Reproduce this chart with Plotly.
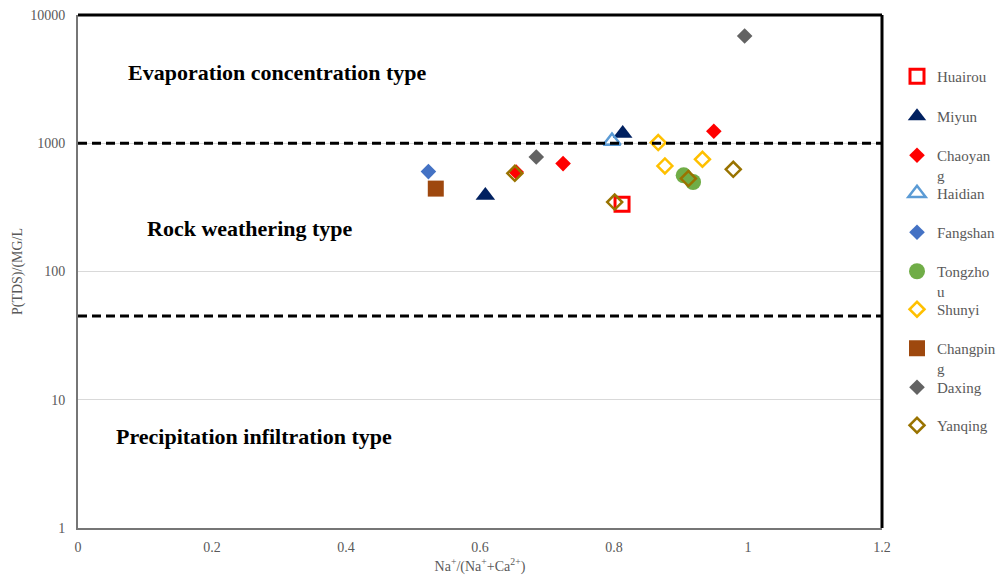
import math
import plotly.graph_objects as go

# ---- data ----
x_huairou = [0.812]; y_huairou = [334]
x_miyun = [0.608, 0.813]; y_miyun = [392, 1191]
x_chaoyang = [0.654, 0.724, 0.949]; y_chaoyang = [597, 694, 1241]
x_haidian = [0.797]; y_haidian = [1042]
x_fangshan = [0.523]; y_fangshan = [601]
x_tongzhou = [0.904, 0.918]; y_tongzhou = [562, 499]
x_shunyi = [0.866, 0.876, 0.932]; y_shunyi = [1012, 665, 750]
x_changping = [0.534]; y_changping = [443]
x_daxing = [0.684, 0.995]; y_daxing = [782, 6850]
x_yanqing = [0.652, 0.801, 0.911, 0.978]; y_yanqing = [583, 348, 530, 626]

legend_names = ["Huairou", "Miyun", "Chaoyan<br>g", "Haidian", "Fangshan",
                "Tongzho<br>u", "Shunyi", "Changpin<br>g", "Daxing", "Yanqing"]

thresholds = [1000, 45]
x_ticks = [0, 0.2, 0.4, 0.6, 0.8, 1, 1.2]
x_ticktext = ["0", "0.2", "0.4", "0.6", "0.8", "1", "1.2"]
y_ticks = [1, 10, 100, 1000, 10000]
y_ticktext = ["1", "10", "100", "1000", "10000"]

region_labels = ["Evaporation concentration type", "Rock weathering type", "Precipitation infiltration type"]
region_x = [0.297, 0.256, 0.262]
region_y = [3570, 217, 5.15]

styles = [
    dict(symbol="square-open", size=14, color="#FF0000", line=dict(width=3, color="#FF0000")),
    dict(symbol="triangle-up", size=17, color="#002060"),
    dict(symbol="diamond", size=12, color="#FF0000"),
    dict(symbol="triangle-up-open", size=15, color="#5B9BD5", line=dict(width=2.5, color="#5B9BD5")),
    dict(symbol="diamond", size=12, color="#4472C4"),
    dict(symbol="circle", size=16, color="#70AD47"),
    dict(symbol="diamond-open", size=11.5, color="#FFC000", line=dict(width=2.5, color="#FFC000")),
    dict(symbol="square", size=16, color="#9E480E"),
    dict(symbol="diamond", size=12, color="#636363"),
    dict(symbol="diamond-open", size=11.5, color="#997300", line=dict(width=2.5, color="#997300")),
]
xs_all = [x_huairou, x_miyun, x_chaoyang, x_haidian, x_fangshan, x_tongzhou, x_shunyi, x_changping, x_daxing, x_yanqing]
ys_all = [y_huairou, y_miyun, y_chaoyang, y_haidian, y_fangshan, y_tongzhou, y_shunyi, y_changping, y_daxing, y_yanqing]

FONT = "Liberation Serif, Times New Roman, serif"
W, H = 1006, 576
ML, MT = 78, 15
plot_w, plot_h = 804, 513
MR = W - ML - plot_w
MB = H - MT - plot_h

# legend item centres (pixels from top) -> paper coords
legend_px = [76, 116, 155, 193, 232, 271, 309, 348, 387, 425]
legend_left_px = 897

fig = go.Figure()
layout_legends = {}
for i, (name, xs, ys, mk) in enumerate(zip(legend_names, xs_all, ys_all, styles)):
    key = "legend" if i == 0 else f"legend{i + 1}"
    fig.add_trace(go.Scatter(x=xs, y=ys, mode="markers", name=name, marker=mk, legend=key))
    top_px = legend_px[i] - 16
    layout_legends[key] = dict(
        x=(legend_left_px - ML) / plot_w, xanchor="left",
        y=(MT + plot_h - top_px) / plot_h, yanchor="top",
        font=dict(family=FONT, size=15, color="#595959"),
        bgcolor="rgba(0,0,0,0)", itemwidth=30, valign="top",
    )

for t in thresholds:
    fig.add_shape(type="line", xref="paper", yref="y", x0=0, x1=1, y0=t, y1=t,
                  line=dict(color="black", width=3, dash="9px,5px"), layer="above")

# top and right frame lines (black); left/bottom are the gray axis lines
fig.add_shape(type="line", xref="paper", yref="paper", x0=0, x1=1, y0=1, y1=1, line=dict(color="black", width=3))
fig.add_shape(type="line", xref="paper", yref="paper", x0=1, x1=1, y0=0, y1=1, line=dict(color="black", width=3))

for txt, xx, yy in zip(region_labels, region_x, region_y):
    fig.add_annotation(x=xx, y=math.log10(yy), xref="x", yref="y", text="<b>" + txt + "</b>",
                       showarrow=False, font=dict(family=FONT, size=22, color="black"))

fig.update_layout(
    width=W, height=H,
    margin=dict(l=ML, r=MR, t=MT, b=MB, autoexpand=False),
    paper_bgcolor="white", plot_bgcolor="white",
    font=dict(family=FONT, color="#595959"),
    showlegend=True,
    xaxis=dict(range=[0, 1.2], tickvals=x_ticks, ticktext=x_ticktext, showgrid=False, zeroline=False,
               showline=True, linecolor="#767676", linewidth=2, ticks="", ticklabelstandoff=5,
               tickfont=dict(size=14, color="#595959"),
               title=dict(text="Na<sup>+</sup>/(Na<sup>+</sup>+Ca<sup>2+</sup>)", font=dict(size=14, color="#595959"), standoff=7)),
    yaxis=dict(type="log", range=[0, 4], tickvals=y_ticks, ticktext=y_ticktext, showgrid=True, gridcolor="#D9D9D9",
               gridwidth=1, zeroline=False, showline=True, linecolor="#767676", linewidth=2, ticks="",
               ticklabelstandoff=8, tickfont=dict(size=14, color="#595959"),
               title=dict(text="P(TDS)/(MG/L", font=dict(size=14, color="#595959"), standoff=4)),
    **layout_legends,
)

fig.write_html("out.html", config={"displayModeBar": False},
               post_script="document.body.style.margin='0';document.body.style.overflow='hidden';")
